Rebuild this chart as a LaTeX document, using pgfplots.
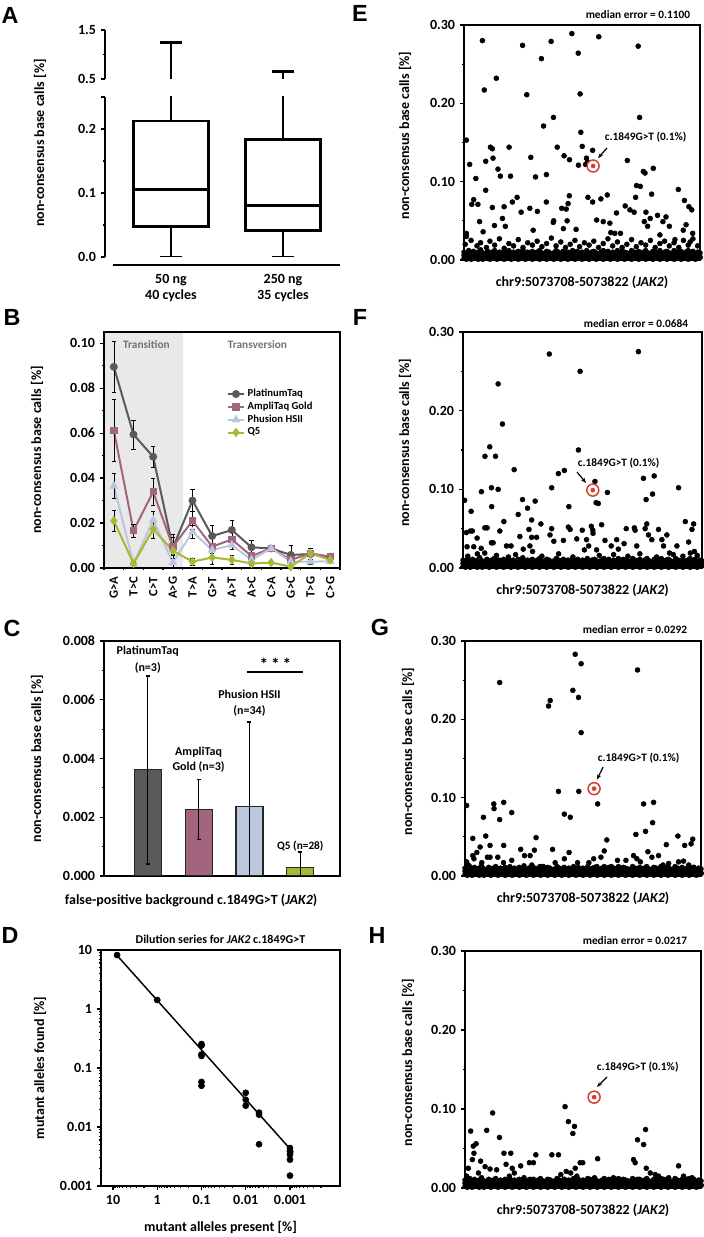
\documentclass[border=0pt]{standalone}
\usepackage{fontspec}
\setmainfont{Carlito}
\newfontfamily\letterfont{Liberation Sans}
\usepackage{pgfplots}
\usepackage{pgfplotstable}
\usepgfplotslibrary{statistics}
\usetikzlibrary{arrows.meta}
\pgfplotsset{compat=1.18}

\definecolor{cPlat}{HTML}{5A5A5A}
\definecolor{cAmpli}{HTML}{A3647F}
\definecolor{cPhus}{HTML}{BAC7DC}
\definecolor{cQ}{HTML}{A8B834}
\definecolor{cRed}{HTML}{D63A2F}
\definecolor{cShade}{HTML}{E9E9E9}

\newcommand\fN{\fontsize{10.5}{12.6}\selectfont\bfseries}
\newcommand\fS{\fontsize{8.5}{10.5}\selectfont\bfseries}
\newcommand\fL{\letterfont\bfseries\fontsize{17.5}{20}\selectfont}

% panel B: mean and error per substitution
\pgfplotstableread{
x y e
0 0.0895 0.0115
1 0.0594 0.0065
2 0.0495 0.0045
3 0.0090 0.0060
4 0.0300 0.0050
5 0.0142 0.0050
6 0.0169 0.0045
7 0.0092 0.0030
8 0.0087 0.0008
9 0.0058 0.0045
10 0.0062 0.0025
11 0.0050 0.0010
}\bPlat
\pgfplotstableread{
x y e
0 0.0612 0.0138
1 0.0166 0.0030
2 0.0339 0.0060
3 0.0095 0.0040
4 0.0210 0.0040
5 0.0095 0.0015
6 0.0127 0.0030
7 0.0053 0.0010
8 0.0088 0.0010
9 0.0036 0.0010
10 0.0065 0.0010
11 0.0050 0.0010
}\bAmpli
\pgfplotstableread{
x y e
0 0.0365 0.0055
1 0.0020 0.0010
2 0.0213 0.0040
3 0.0024 0.0020
4 0.0161 0.0030
5 0.0080 0.0015
6 0.0102 0.0020
7 0.0036 0.0010
8 0.0087 0.0010
9 0.0028 0.0010
10 0.0028 0.0010
11 0.0030 0.0010
}\bPhus
\pgfplotstableread{
x y e
0 0.0210 0.0045
1 0.0020 0.0010
2 0.0173 0.0040
3 0.0077 0.0015
4 0.0028 0.0015
5 0.0047 0.0030
6 0.0036 0.0020
7 0.0020 0.0008
8 0.0024 0.0008
9 0.0006 0.0005
10 0.0065 0.0015
11 0.0036 0.0012
}\bQ

% low background band shared by E-H (positions 0-100 along the amplicon)
\pgfplotstableread{
x ya yb yc
0 0.002 0.006 0.010
1 0.001 0.004 0.008
2 0.003 0.007 0.012
3 0.001 0.005 0.009
4 0.002 0.004 0.011
5 0.003 0.006 0.008
6 0.001 0.005 0.010
7 0.002 0.007 0.013
8 0.001 0.004 0.009
9 0.003 0.006 0.008
10 0.002 0.005 0.011
11 0.001 0.007 0.009
12 0.003 0.004 0.010
13 0.002 0.006 0.012
14 0.001 0.005 0.008
15 0.003 0.007 0.010
16 0.002 0.004 0.009
17 0.001 0.006 0.011
18 0.002 0.005 0.008
19 0.003 0.007 0.012
20 0.001 0.004 0.009
21 0.002 0.006 0.010
22 0.003 0.005 0.008
23 0.001 0.007 0.011
24 0.002 0.004 0.009
25 0.003 0.006 0.013
26 0.001 0.005 0.008
27 0.002 0.007 0.010
28 0.003 0.004 0.009
29 0.001 0.006 0.011
30 0.002 0.005 0.008
31 0.003 0.007 0.010
32 0.001 0.004 0.012
33 0.002 0.006 0.009
34 0.003 0.005 0.008
35 0.001 0.007 0.011
36 0.002 0.004 0.010
37 0.003 0.006 0.008
38 0.001 0.005 0.009
39 0.002 0.007 0.012
40 0.003 0.004 0.010
41 0.001 0.006 0.008
42 0.002 0.005 0.011
43 0.003 0.007 0.009
44 0.001 0.004 0.010
45 0.002 0.006 0.008
46 0.003 0.005 0.012
47 0.001 0.007 0.009
48 0.002 0.004 0.011
49 0.003 0.006 0.008
50 0.001 0.005 0.010
51 0.002 0.007 0.009
52 0.003 0.004 0.012
53 0.001 0.006 0.008
54 0.002 0.005 0.010
55 0.003 0.007 0.011
56 0.001 0.004 0.009
57 0.002 0.006 0.008
58 0.003 0.005 0.010
59 0.001 0.007 0.012
60 0.002 0.004 0.009
61 0.003 0.006 0.011
62 0.001 0.005 0.008
63 0.002 0.007 0.010
64 0.003 0.004 0.009
65 0.001 0.006 0.012
66 0.002 0.005 0.008
67 0.003 0.007 0.011
68 0.001 0.004 0.010
69 0.002 0.006 0.009
70 0.003 0.005 0.008
71 0.001 0.007 0.012
72 0.002 0.004 0.010
73 0.003 0.006 0.009
74 0.001 0.005 0.011
75 0.002 0.007 0.008
76 0.003 0.004 0.010
77 0.001 0.006 0.012
78 0.002 0.005 0.009
79 0.003 0.007 0.008
80 0.001 0.004 0.011
81 0.002 0.006 0.010
82 0.003 0.005 0.009
83 0.001 0.007 0.012
84 0.002 0.004 0.008
85 0.003 0.006 0.010
86 0.001 0.005 0.011
87 0.002 0.007 0.009
88 0.003 0.004 0.008
89 0.001 0.006 0.012
90 0.002 0.005 0.010
91 0.003 0.007 0.009
92 0.001 0.004 0.011
93 0.002 0.006 0.008
94 0.003 0.005 0.010
95 0.001 0.007 0.012
96 0.002 0.004 0.009
97 0.003 0.006 0.011
98 0.001 0.005 0.008
99 0.002 0.007 0.010
100 0.003 0.004 0.009
}\band

\pgfplotstableread{
x y
1 0.153
2.4 0.122
7.8 0.280
8.6 0.217
13.7 0.232
11.2 0.144
12 0.142
9.2 0.126
12.3 0.130
5 0.104
14.4 0.116
15.4 0.107
19.1 0.144
19.7 0.107
9.2 0.089
4.1 0.077
3.3 0.071
5.9 0.071
12 0.067
17 0.068
16.3 0.053
17.5 0.043
12.9 0.044
6.6 0.049
8.1 0.036
1 0.034
1 0.030
20.5 0.074
22.5 0.080
24.8 0.274
26.6 0.211
28.3 0.131
30.3 0.106
27.9 0.066
24.2 0.061
29.3 0.038
31.1 0.062
32.8 0.257
33.7 0.171
34.9 0.074
34.9 0.109
36.9 0.279
37.9 0.182
39.5 0.144
37.8 0.048
38 0.050
42.4 0.133
41.4 0.066
43.3 0.065
44.1 0.072
44.7 0.128
44.6 0.082
43.7 0.050
42.1 0.040
45.7 0.289
48.4 0.264
49.2 0.212
48.5 0.121
50.1 0.145
47.5 0.039
49.5 0.163
51.5 0.122
52.3 0.125
51.9 0.130
54.5 0.140
52.5 0.080
54.5 0.074
57.1 0.285
58 0.078
60.7 0.083
56.2 0.051
59 0.049
61.8 0.047
62.2 0.035
64.6 0.060
63.9 0.034
66.3 0.034
68.3 0.069
69.2 0.127
70.3 0.064
72.1 0.061
73.8 0.273
74.4 0.182
73.1 0.095
74.7 0.094
76 0.113
76.7 0.111
77.1 0.061
72.7 0.080
80.2 0.117
79.5 0.084
78.9 0.053
76.4 0.049
77.8 0.043
82 0.057
85.6 0.055
84.3 0.049
87 0.043
90.8 0.090
93.4 0.076
95.3 0.068
96.5 0.064
94.1 0.045
92.9 0.038
96.9 0.034
83 0.032
89.4 0.026
95.8 0.023
0.5 0.020
3 0.025
5.5 0.018
7 0.022
9.5 0.016
11 0.024
13 0.019
15 0.027
17 0.015
19 0.021
21 0.018
23 0.026
25 0.016
27 0.022
29 0.019
31 0.024
33 0.017
35 0.021
37 0.028
39 0.018
41 0.023
43 0.016
45 0.020
47 0.025
49 0.017
51 0.022
53 0.019
55 0.024
57 0.016
59 0.021
61 0.027
63 0.018
65 0.023
67 0.016
69 0.020
71 0.026
73 0.017
75 0.022
77 0.019
79 0.025
81 0.016
83 0.021
85 0.024
87 0.018
89 0.022
91 0.016
93 0.025
95 0.019
97 0.027
99 0.018
}\scatE

\pgfplotstableread{
x y
0.7 0.086
3.4 0.072
1.4 0.045
3.1 0.047
3.9 0.047
1.7 0.027
4.5 0.027
5.9 0.038
7.7 0.097
9.1 0.051
10.1 0.051
9.2 0.142
11.2 0.154
12 0.078
11.9 0.102
13.6 0.142
14.7 0.234
14.7 0.100
16.5 0.183
17.1 0.059
15.4 0.047
12.6 0.032
11.9 0.032
7.6 0.025
9.1 0.019
18.2 0.028
20.1 0.028
23.1 0.068
24.9 0.087
27 0.076
30.2 0.085
28.7 0.061
21.4 0.125
23.8 0.040
27.6 0.049
28.7 0.039
30.8 0.039
32.6 0.056
28 0.028
29.1 0.021
25.2 0.024
36.1 0.272
37.1 0.102
36.4 0.042
37.1 0.050
38 0.034
39.9 0.120
42.4 0.124
44.3 0.078
44.1 0.052
44.8 0.049
42 0.035
47.6 0.037
49.9 0.048
50.8 0.023
48.3 0.150
49 0.250
52.6 0.028
53.7 0.053
54.3 0.048
54.4 0.044
51.7 0.036
55.2 0.110
55.7 0.083
56.6 0.082
60.4 0.096
58 0.055
55.9 0.023
59.4 0.035
62 0.028
64.3 0.036
65 0.024
67.4 0.031
68.3 0.050
71.7 0.051
72 0.048
72.7 0.028
73.4 0.275
75.5 0.114
76.6 0.087
76.9 0.056
76.2 0.050
77.6 0.042
79.3 0.094
80 0.117
79 0.036
81.8 0.049
83.2 0.036
85.3 0.042
83.9 0.028
86.4 0.019
90.2 0.102
89.5 0.028
93 0.059
96.5 0.056
95.8 0.049
94.4 0.033
95.1 0.019
96.8 0.021
2 0.015
6 0.018
14 0.016
19 0.014
22 0.017
33 0.015
40 0.018
46 0.014
57 0.016
63 0.017
69 0.015
74 0.018
81 0.014
88 0.017
92 0.015
98 0.016
}\scatF

\pgfplotstableread{
x y
0.7 0.090
0.7 0.018
1.4 0.014
3.3 0.048
3.3 0.026
3.8 0.022
5 0.030
6.4 0.037
7.8 0.075
8.8 0.051
7.1 0.017
9.5 0.024
10.6 0.039
10.6 0.024
12.2 0.092
12.3 0.086
13.9 0.024
14.7 0.072
14.7 0.247
16.4 0.094
16.4 0.039
16.3 0.017
17.7 0.009
19.8 0.081
19.8 0.020
23.6 0.034
25.2 0.026
27.6 0.026
29.4 0.033
30.1 0.049
28.3 0.014
31.8 0.012
33.2 0.012
35.4 0.217
36.1 0.224
37.1 0.034
38.2 0.017
39.6 0.108
42.1 0.079
44.6 0.075
44.1 0.030
42.1 0.022
40.3 0.009
45.7 0.237
46.7 0.283
49.2 0.271
48.1 0.228
49.2 0.183
48.2 0.108
47.7 0.017
52.5 0.017
54.5 0.022
56.2 0.092
57.6 0.024
59 0.032
60.1 0.046
55.9 0.012
62 0.012
64.6 0.020
68.2 0.020
71.4 0.026
72.4 0.053
73.1 0.263
75.7 0.092
76.5 0.057
77.5 0.031
79.5 0.068
79.9 0.094
79.2 0.024
82 0.026
72.8 0.022
74.3 0.018
85.3 0.040
90.2 0.051
93.1 0.039
95.8 0.041
96.5 0.047
86.3 0.016
92.6 0.019
94.8 0.014
96.9 0.011
90.5 0.018
83.9 0.014
}\scatG

\pgfplotstableread{
x y
0.7 0.015
1.4 0.025
2.4 0.072
3.1 0.036
3.5 0.053
4.7 0.056
3.8 0.044
5.7 0.019
6.6 0.034
8.5 0.027
9.2 0.073
10.6 0.024
11.7 0.095
13.4 0.023
14.6 0.064
16.5 0.044
17.4 0.030
19.4 0.044
20 0.025
18.8 0.015
20.9 0.019
23.6 0.028
24.8 0.011
27.3 0.032
29 0.032
30 0.042
27.6 0.011
36.1 0.010
36.8 0.042
39.6 0.042
40.6 0.017
42.4 0.103
42.1 0.011
42.9 0.021
43.8 0.084
45.7 0.069
46.4 0.078
44.8 0.019
46.7 0.025
48.8 0.032
49.9 0.032
47.4 0.015
53 0.011
54.9 0.013
56.2 0.037
62.9 0.013
71.4 0.036
72.1 0.032
73.1 0.061
75.7 0.055
76.5 0.074
76.8 0.025
78.5 0.019
73.1 0.011
82 0.015
86.3 0.013
90.5 0.028
92.6 0.015
96.2 0.013
94.1 0.011
84.2 0.011
80.6 0.017
}\scatH

\pgfplotsset{
  panel/.style={scale only axis, anchor=south west,
    /pgf/number format/assume math mode=true,
    tick align=outside, major tick length=3pt, minor tick length=1.8pt,
    xtick pos=bottom, ytick pos=left,
    every tick/.style={black, line width=0.9pt},
    axis line style={line width=1.3pt},
    tick label style={font=\fN}, label style={font=\fN},
    scaled y ticks=false},
  scat/.style={panel, axis on top, xmin=0, xmax=100, ymin=0, ymax=0.3,
    xtick=\empty, ytick={0,0.1,0.2,0.3}, minor y tick num=1,
    y tick label style={/pgf/number format/.cd, fixed, fixed zerofill, precision=2},
    ylabel={non-consensus base calls [\%]},
    xlabel={chr9:5073708-5073822 ({\itshape JAK2})},
    every axis x label/.style={at={(rel axis cs:0.5,0)}, anchor=center, yshift=-16.5pt}},
  dot/.style={only marks, mark=*, mark size=1.85pt, black, mark options={draw=black, fill=black}},
  ring/.style={only marks, mark=*, mark size=4.5pt, mark options={draw=cRed, fill=white, line width=1.1pt}},
  rdot/.style={only marks, mark=*, mark size=1.5pt, mark options={draw=cRed, fill=cRed}},
  bx/.style={black, line width=2.2pt, solid},
}

\begin{document}
\fN
\begin{tikzpicture}
\useasboundingbox (0,0) rectangle (527.25pt,927.75pt);

% ---------- A (broken axis: lower and upper part) ----------
\begin{axis}[panel, at={(78.75pt,735pt)}, width=176.25pt, height=120pt,
  xmin=0.411, xmax=2.509, ymin=0, ymax=0.25,
  axis x line*=bottom, axis y line*=left, x axis line style={draw=none},
  xtick={1,2}, xticklabels={{50 ng\\40 cycles},{250 ng\\35 cycles}},
  xticklabel style={align=center, yshift=-6pt}, major x tick style={draw=none},
  ytick={0,0.1,0.2}, yticklabels={0.0,0.1,0.2}, minor ytick={0.05,0.15},
  extra y ticks={0.25}, extra y tick labels={}]
\addplot[bx, boxplot prepared={draw direction=y, draw position=1, lower whisker=0, lower quartile=0.048,
  median=0.106, upper quartile=0.2125, upper whisker=1.25, box extend=0.67, whisker extend=0.2}] coordinates {};
\addplot[bx, boxplot prepared={draw direction=y, draw position=2, lower whisker=0, lower quartile=0.042,
  median=0.081, upper quartile=0.183, upper whisker=0.66, box extend=0.67, whisker extend=0.2}] coordinates {};
\end{axis}
\begin{axis}[panel, at={(78.75pt,868.5pt)}, width=176.25pt, height=36.75pt,
  xmin=0.411, xmax=2.509, ymin=0.5, ymax=1.5,
  axis y line*=left, axis x line=none, xtick=\empty,
  ytick={0.5,1.5}, yticklabels={0.5,1.5}, minor ytick={1}]
\addplot[bx, boxplot prepared={draw direction=y, draw position=1, lower whisker=0, lower quartile=0.048,
  median=0.106, upper quartile=0.2125, upper whisker=1.25, box extend=0.67, whisker extend=0.2}] coordinates {};
\addplot[bx, boxplot prepared={draw direction=y, draw position=2, lower whisker=0, lower quartile=0.042,
  median=0.081, upper quartile=0.183, upper whisker=0.66, box extend=0.67, whisker extend=0.2}] coordinates {};
\end{axis}

% ---------- B ----------
\begin{axis}[panel, axis on top, at={(78pt,501.75pt)}, width=177pt, height=177pt,
  xmin=-0.5, xmax=11.5, ymin=0, ymax=0.105,
  xtick={0,...,11}, xticklabels={G>A,T>C,C>T,A>G,T>A,G>T,A>T,A>C,C>A,G>C,T>G,C>G},
  major x tick style={draw=none}, minor xtick={-0.5,0.5,...,11.5},
  xticklabel style={rotate=90, anchor=east, font=\fontsize{9.5}{11}\selectfont\bfseries},
  ytick={0,0.02,0.04,0.06,0.08,0.1}, minor y tick num=1,
  y tick label style={/pgf/number format/.cd, fixed, fixed zerofill, precision=2},
  ylabel={non-consensus base calls [\%]},
  every axis y label/.style={at={(rel axis cs:0,0.5)}, xshift=-50.25pt, rotate=90, anchor=center},
  legend style={at={(0.52,0.77)}, anchor=north west, draw=none, fill=none,
    font=\fontsize{8}{9.5}\selectfont\bfseries, row sep=-1.5pt, inner sep=0pt},
  legend cell align=left,
  legend image code/.code={\draw[mark repeat=2, mark phase=2] plot coordinates {(0pt,0pt) (6pt,0pt) (12pt,0pt)};},
  error bars/error bar style={black, line width=0.5pt},
  error bars/error mark options={rotate=90, black, mark size=1.6pt, line width=0.5pt}]
\fill[cShade] (axis cs:-0.5,0) rectangle (axis cs:3.5,0.105);
\node[text=black!55, font=\fS] at (axis cs:1.66,0.0996) {Transition};
\node[text=black!55, font=\fS] at (axis cs:7.3,0.0996) {Transversion};
\addplot[cPlat, line width=1.5pt, mark=*, mark size=2.2pt, mark options={solid, fill=cPlat},
  error bars/.cd, y dir=both, y explicit] table[x=x, y=y, y error=e] \bPlat;
\addplot[cAmpli, line width=1.5pt, mark=square*, mark size=2pt, mark options={solid, fill=cAmpli},
  error bars/.cd, y dir=both, y explicit] table[x=x, y=y, y error=e] \bAmpli;
\addplot[cPhus, line width=1.5pt, mark=triangle*, mark size=2.4pt, mark options={solid, fill=cPhus},
  error bars/.cd, y dir=both, y explicit] table[x=x, y=y, y error=e] \bPhus;
\addplot[cQ, line width=1.5pt, mark=diamond*, mark size=2.4pt, mark options={solid, fill=cQ},
  error bars/.cd, y dir=both, y explicit] table[x=x, y=y, y error=e] \bQ;
\legend{PlatinumTaq, AmpliTaq Gold, Phusion HSII, Q5}
\end{axis}

% ---------- C ----------
\begin{axis}[panel, at={(78pt,270.75pt)}, width=177pt, height=176.25pt,
  xmin=-0.86, xmax=3.78, ymin=0, ymax=0.008, xtick=\empty,
  ytick={0,0.002,0.004,0.006,0.008}, minor y tick num=1,
  y tick label style={/pgf/number format/.cd, fixed, fixed zerofill, precision=3},
  ylabel={non-consensus base calls [\%]},
  every axis y label/.style={at={(rel axis cs:0,0.5)}, xshift=-50.25pt, rotate=90, anchor=center},
  xlabel={false-positive background c.1849G>T ({\itshape JAK2})},
  every axis x label/.style={at={(rel axis cs:0.369,0)}, anchor=center, yshift=-18pt},
  error bars/error bar style={black, line width=1.1pt},
  error bars/error mark options={rotate=90, black, mark size=1.5pt, line width=1.1pt}]
\addplot[ybar, bar width=20.25pt, bar shift=0pt, fill=cPlat, draw=black!85, line width=0.8pt,
  error bars/.cd, y dir=both, y explicit] coordinates {(0,0.00361) +- (0,0.0032)};
\addplot[ybar, bar width=20.25pt, bar shift=0pt, fill=cAmpli, draw=black!85, line width=0.8pt,
  error bars/.cd, y dir=both, y explicit] coordinates {(1,0.00227) +- (0,0.00102)};
\addplot[ybar, bar width=20.25pt, bar shift=0pt, fill=cPhus, draw=black!85, line width=0.8pt,
  error bars/.cd, y dir=both, y explicit] coordinates {(2,0.00236) +- (0,0.00289)};
\addplot[ybar, bar width=20.25pt, bar shift=0pt, fill=cQ, draw=black!85, line width=0.8pt,
  error bars/.cd, y dir=both, y explicit] coordinates {(3,0.0003) +- (0,0.00052)};
\node[align=center, font=\fontsize{9}{12.5}\selectfont\bfseries] at (axis cs:0,0.00737) {PlatinumTaq\\(n=3)};
\node[align=center, font=\fontsize{9}{11.25}\selectfont\bfseries] at (axis cs:1,0.00397) {AmpliTaq\\Gold (n=3)};
\node[align=center, font=\fontsize{9}{12}\selectfont\bfseries] at (axis cs:2,0.00589) {Phusion HSII\\(n=34)};
\node[font=\fontsize{8.5}{10}\selectfont\bfseries] at (axis cs:3,0.00100) {Q5 (n=28)};
\node[font=\fontsize{13}{15}\selectfont\bfseries] at (axis cs:2.51,0.00722) {*\,*\,*};
\draw[line width=1.1pt] (axis cs:1.96,0.00694) -- (axis cs:3.06,0.00694);
\end{axis}

% ---------- D ----------
\begin{axis}[panel, at={(75.75pt,38.25pt)}, width=179.25pt, height=177pt,
  xmode=log, ymode=log, x dir=reverse,
  xmin=7.4e-5, xmax=18.7, ymin=0.001, ymax=10,
  xtick={10,1,0.1,0.01,0.001}, xticklabels={10,1,0.1,0.01,0.001},
  ytick={10,1,0.1,0.01,0.001}, yticklabels={10,1,0.1,0.01,0.001},
  minor xtick={0.0002,0.0003,0.0004,0.0005,0.0006,0.0007,0.0008,0.0009,
    0.002,0.003,0.004,0.005,0.006,0.007,0.008,0.009,
    0.02,0.03,0.04,0.05,0.06,0.07,0.08,0.09,
    0.2,0.3,0.4,0.5,0.6,0.7,0.8,0.9,2,3,4,5,6,7,8,9},
  minor ytick={0.002,0.003,0.004,0.005,0.006,0.007,0.008,0.009,
    0.02,0.03,0.04,0.05,0.06,0.07,0.08,0.09,
    0.2,0.3,0.4,0.5,0.6,0.7,0.8,0.9,2,3,4,5,6,7,8,9},
  title={Dilution series for {\itshape JAK2} c.1849G>T},
  title style={font=\fontsize{9}{11}\selectfont\bfseries, yshift=-5pt},
  ylabel={mutant alleles found [\%]},
  every axis y label/.style={at={(rel axis cs:0,0.5)}, xshift=-45.75pt, rotate=90, anchor=center},
  xlabel={mutant alleles present [\%]},
  every axis x label/.style={at={(rel axis cs:0.5,0)}, anchor=center, yshift=-30.75pt}]
\addplot[black, line width=1.1pt] coordinates {(8.25,8.2) (0.00084,0.0037)};
\addplot[only marks, mark=*, mark size=2.3pt, black] coordinates {
  (8.1,8.2) (1,1.42)
  (0.1,0.255) (0.1,0.24) (0.1,0.17) (0.1,0.16) (0.1,0.058) (0.1,0.050)
  (0.01,0.038) (0.01,0.029) (0.01,0.023)
  (0.005,0.0175) (0.005,0.0162) (0.005,0.0051)
  (0.001,0.0044) (0.001,0.0039) (0.001,0.0034) (0.001,0.0028) (0.001,0.0015)};
\end{axis}

% ---------- E ----------
\begin{axis}[scat, at={(348pt,732.75pt)}, width=177pt, height=176.25pt,
  every axis y label/.style={at={(rel axis cs:0,0.53)}, xshift=-44.25pt, rotate=90, anchor=center}]
\addplot[dot] table[x=x, y=ya] \band;
\addplot[dot] table[x=x, y=yb] \band;
\addplot[dot] table[x=x, y=yc] \band;
\addplot[dot] table[x=x, y=y] \scatE;
\addplot[ring] coordinates {(54.7,0.120)};
\addplot[rdot] coordinates {(54.7,0.120)};
\node[anchor=west, font=\fS] at (axis cs:57.6,0.157) {c.1849G>T (0.1\%)};
\draw[-{Stealth[length=4pt]}, line width=0.9pt] (axis cs:60.6,0.143) -- (axis cs:56.8,0.130);
\end{axis}

% ---------- F ----------
\begin{axis}[scat, at={(347.25pt,501.75pt)}, width=179.25pt, height=177pt,
  every axis y label/.style={at={(rel axis cs:0,0.53)}, xshift=-43.5pt, rotate=90, anchor=center}]
\addplot[dot] table[x=x, y=ya] \band;
\addplot[dot] table[x=x, y=yb] \band;
\addplot[dot] table[x=x, y=yc] \band;
\addplot[dot] table[x=x, y=y] \scatF;
\addplot[ring] coordinates {(54.3,0.099)};
\addplot[rdot] coordinates {(54.3,0.099)};
\node[anchor=west, font=\fS] at (axis cs:46,0.133) {c.1849G>T (0.1\%)};
\draw[-{Stealth[length=4pt]}, line width=0.9pt] (axis cs:47.7,0.122) -- (axis cs:51.5,0.108);
\end{axis}

% ---------- G ----------
\begin{axis}[scat, at={(348.75pt,270.75pt)}, width=177pt, height=176.25pt,
  every axis y label/.style={at={(rel axis cs:0,0.53)}, xshift=-42.75pt, rotate=90, anchor=center}]
\addplot[dot] table[x=x, y=ya] \band;
\addplot[dot] table[x=x, y=yb] \band;
\addplot[dot] table[x=x, y=yc] \band;
\addplot[dot] table[x=x, y=y] \scatG;
\addplot[ring] coordinates {(54.7,0.1115)};
\addplot[rdot] coordinates {(54.7,0.1115)};
\node[anchor=west, font=\fS] at (axis cs:54.2,0.151) {c.1849G>T (0.1\%)};
\draw[-{Stealth[length=4pt]}, line width=0.9pt] (axis cs:58.5,0.139) -- (axis cs:55.9,0.123);
\end{axis}

% ---------- H ----------
\begin{axis}[scat, at={(348.75pt,36.75pt)}, width=177pt, height=177.75pt,
  every axis y label/.style={at={(rel axis cs:0,0.53)}, xshift=-42.75pt, rotate=90, anchor=center}]
\addplot[dot] table[x=x, y=ya] \band;
\addplot[dot] table[x=x, y=yb] \band;
\addplot[dot] table[x=x, y=yc] \band;
\addplot[dot] table[x=x, y=y] \scatH;
\addplot[ring] coordinates {(54.7,0.115)};
\addplot[rdot] coordinates {(54.7,0.115)};
\node[anchor=west, font=\fS] at (axis cs:53.8,0.153) {c.1849G>T (0.1\%)};
\draw[-{Stealth[length=4pt]}, line width=0.9pt] (axis cs:60.2,0.1405) -- (axis cs:55.9,0.128);
\end{axis}

% ---------- panel letters and free text, in reference pixels ----------
\begin{scope}[x=0.75pt, y=-0.75pt, yshift=927.75pt]
\node[font=\fL] at (10,15) {A};
\node[font=\fL] at (12,317) {B};
\node[font=\fL] at (12,628) {C};
\node[font=\fL] at (10,935) {D};
\node[font=\fL] at (360,13) {E};
\node[font=\fL] at (360,317) {F};
\node[font=\fL] at (380,627) {G};
\node[font=\fL] at (377,935) {H};
\node[rotate=90] at (40,143) {non-consensus base calls [\%]};
\draw[line width=1.2pt] (113,265) -- (340,265);
\node[anchor=east, font=\fS] at (695,15) {median error = 0.1100};
\node[anchor=east, font=\fS] at (693,324) {median error = 0.0684};
\node[anchor=east, font=\fS] at (692,630) {median error = 0.0292};
\node[anchor=east, font=\fS] at (692,941) {median error = 0.0217};
\end{scope}
\end{tikzpicture}
\end{document}
